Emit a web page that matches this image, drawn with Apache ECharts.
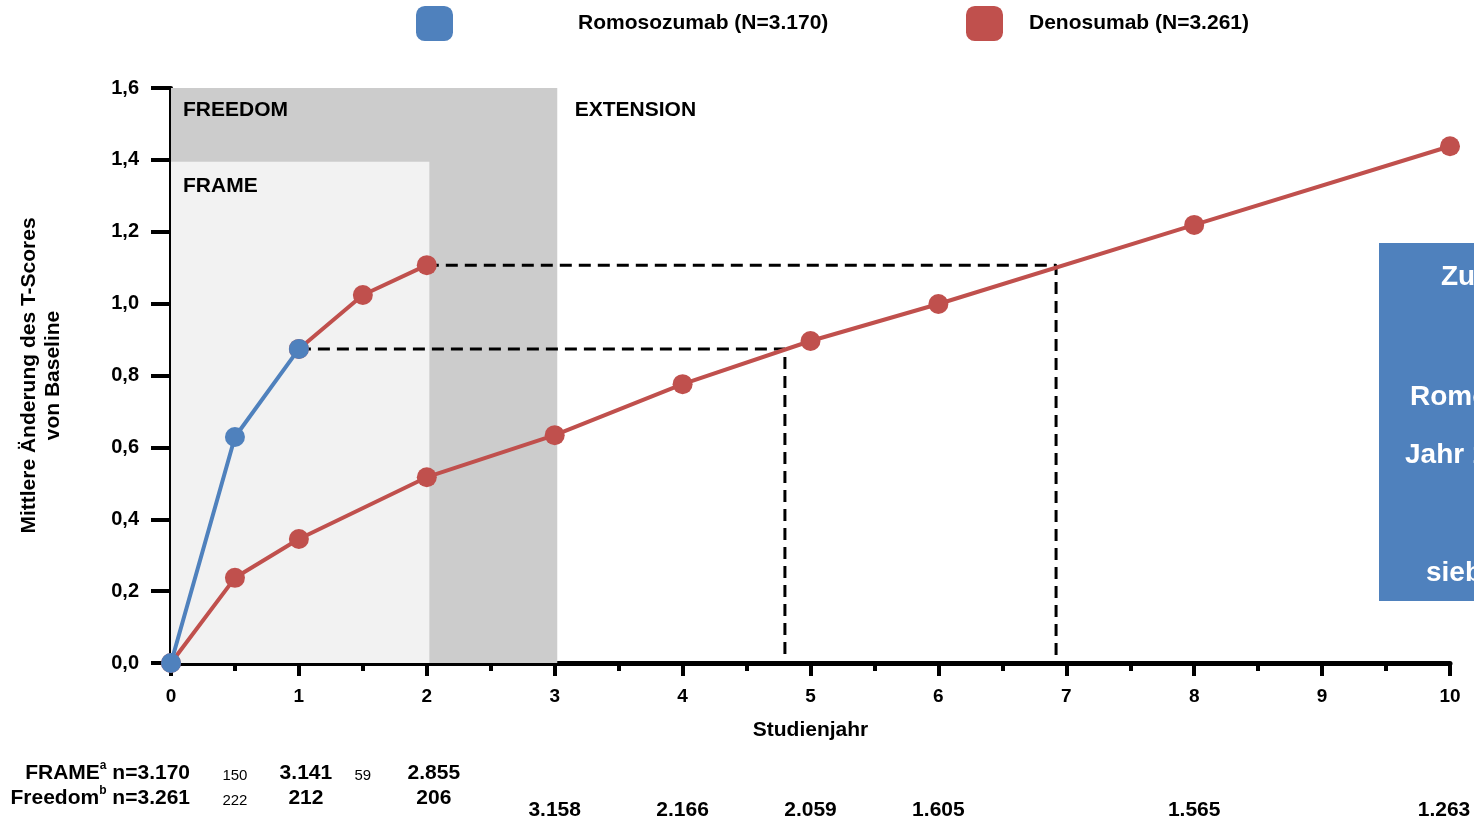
<!DOCTYPE html>
<html>
<head>
<meta charset="utf-8">
<script src="https://cdn.jsdelivr.net/npm/echarts@6/dist/echarts.min.js"></script>
<style>
  html, body { margin: 0; padding: 0; background: #fff; }
  #chart { width: 1474px; height: 821px; }
</style>
</head>
<body>
<div id="chart"></div>
<script>
// Mean change of the T-score from baseline, by study year
const romoYears = [0, 0.5, 1];
const romoValues = [0, 0.629, 0.874];

const switchYears = [1, 1.5, 2];          // Romosozumab followed by Denosumab
const switchValues = [0.874, 1.024, 1.107];

const denoYears = [0, 0.5, 1, 2, 3, 4, 5, 6, 8, 10];
const denoValues = [0, 0.237, 0.345, 0.517, 0.634, 0.776, 0.896, 0.999, 1.219, 1.438];

// Year at which Denosumab reaches the same gain
const matchOneYear = [1, 4.8];
const matchTwoYears = [2, 6.92];

const yTicks = [0, 0.2, 0.4, 0.6, 0.8, 1.0, 1.2, 1.4, 1.6];

// Study phases: [label, start year, end year, top value]
const phaseNames = ['FREEDOM', 'FRAME', 'EXTENSION'];
const phaseStart = [0, 0, 3];
const phaseEnd = [3.02, 2.02, 10];
const phaseTop = [1.6, 1.395, 1.6];

// Patients at risk
const frameRiskYears = [0.5, 1, 1.5, 2];
const frameRiskN = ['150', '3.141', '59', '2.855'];
const freedomRiskYears = [0.5, 1, 2];
const freedomRiskN = ['222', '212', '206'];
const extensionRiskYears = [3, 4, 5, 6, 8, 10];
const extensionRiskN = ['3.158', '2.166', '2.059', '1.605', '1.565', '1.263'];

const summaryLines = ['Zu Beginn', 'Romosozumab', 'Jahr 1', 'sieben Jahre'];

const BLUE = '#4f81bd';
const RED = '#c0504d';
const FONT = '"Liberation Sans", Arial, sans-serif';
const phaseFill = ['#cccccc', '#f2f2f2', 'rgba(0,0,0,0)'];

const pairs = (xs, ys) => xs.map((x, i) => [x, ys[i]]);
const romoAt1 = romoValues[romoYears.indexOf(1)];
const switchAt2 = switchValues[switchYears.indexOf(2)];

const chart = echarts.init(document.getElementById('chart'), null, { renderer: 'canvas' });

const legendText = { fontFamily: FONT, fontSize: 21, fontWeight: 'bold', color: '#000' };

chart.setOption({
  animation: false,
  textStyle: { fontFamily: FONT },
  grid: { left: 171, right: 24, top: 88, bottom: 158, containLabel: false },
  legend: [
    { data: ['Romosozumab (N=3.170)'], left: 416, top: 6, padding: 0, itemWidth: 37, itemHeight: 35, icon: 'roundRect',
      textStyle: Object.assign({ padding: [0, 0, 12, 120] }, legendText) },
    { data: ['Denosumab (N=3.261)'], left: 966, top: 6, padding: 0, itemWidth: 37, itemHeight: 35, icon: 'roundRect',
      textStyle: Object.assign({ padding: [0, 0, 12, 21] }, legendText) }
  ],
  xAxis: {
    type: 'value', min: 0, max: 10, interval: 1,
    name: 'Studienjahr', nameLocation: 'middle', nameGap: 57,
    nameTextStyle: { fontFamily: FONT, fontSize: 21, fontWeight: 'bold', color: '#000' },
    axisLine: { lineStyle: { color: '#000', width: 5 } },
    axisTick: { length: 13, lineStyle: { color: '#000', width: 4 } },
    minorTick: { show: true, splitNumber: 2, length: 8, lineStyle: { color: '#000', width: 4 } },
    axisLabel: { margin: 24, fontFamily: FONT, fontSize: 19, fontWeight: 'bold', color: '#000' },
    splitLine: { show: false }
  },
  yAxis: {
    type: 'value', min: yTicks[0], max: yTicks[yTicks.length - 1], interval: 0.2,
    name: 'Mittlere Änderung des T-Scores\nvon Baseline', nameLocation: 'middle', nameGap: 106, nameRotate: 90,
    nameTextStyle: { fontFamily: FONT, fontSize: 21, fontWeight: 'bold', color: '#000', lineHeight: 24 },
    axisLine: { show: true, lineStyle: { color: '#000', width: 4 } },
    axisTick: { show: true, length: 20, lineStyle: { color: '#000', width: 4 } },
    axisLabel: {
      margin: 32, fontFamily: FONT, fontSize: 20, fontWeight: 'bold', color: '#000',
      formatter: v => v.toFixed(1).replace('.', ',')
    },
    splitLine: { show: false }
  },
  series: [
    {
      // study phase shading
      type: 'line', data: [], silent: true,
      markArea: {
        silent: true,
        data: phaseNames.map((n, i) => [
          { xAxis: phaseStart[i], yAxis: 0, itemStyle: { color: phaseFill[i] } },
          { xAxis: phaseEnd[i], yAxis: phaseTop[i] }
        ])
      }
    },
    {
      name: 'dashA', type: 'line', silent: true, symbol: 'none', z: 3,
      lineStyle: { color: '#000', width: 3, type: [12, 7] },
      data: [[matchOneYear[0], romoAt1], [matchOneYear[1], romoAt1], [matchOneYear[1], 0.02]]
    },
    {
      name: 'dashB', type: 'line', silent: true, symbol: 'none', z: 3,
      lineStyle: { color: '#000', width: 3, type: [12, 7] },
      data: [[matchTwoYears[0], switchAt2], [matchTwoYears[1], switchAt2], [matchTwoYears[1], 0.02]]
    },
    {
      name: 'Denosumab (N=3.261)', type: 'line', z: 4, clip: false,
      data: pairs(denoYears, denoValues),
      symbol: 'circle', symbolSize: 20,
      itemStyle: { color: RED }, lineStyle: { color: RED, width: 4 }
    },
    {
      name: 'Denosumab (N=3.261)', type: 'line', z: 4, clip: false,
      data: pairs(switchYears, switchValues),
      symbol: 'circle', symbolSize: 20,
      itemStyle: { color: RED }, lineStyle: { color: RED, width: 4 }
    },
    {
      name: 'Romosozumab (N=3.170)', type: 'line', z: 5, clip: false,
      data: pairs(romoYears, romoValues),
      symbol: 'circle', symbolSize: 20,
      itemStyle: { color: BLUE }, lineStyle: { color: BLUE, width: 4 }
    }
  ]
});

// Phase titles, patients-at-risk table and summary box, placed on the axis scales
const px = yr => chart.convertToPixel({ xAxisIndex: 0 }, yr);
const py = v => chart.convertToPixel({ yAxisIndex: 0 }, v);
const bold = { fontFamily: FONT, fontSize: 21, fontWeight: 'bold', fill: '#000' };
const small = { fontFamily: FONT, fontSize: 15, fontWeight: 'normal', fill: '#000' };
const g = [];

const phaseLabelDx = [12, 12, 20];
const phaseLabelDy = [22, 25, 22];
phaseNames.forEach((n, i) => {
  g.push({
    type: 'text', z: 10,
    x: px(phaseStart[i]) + phaseLabelDx[i], y: py(phaseTop[i]) + phaseLabelDy[i],
    style: Object.assign({ text: n, align: 'left', verticalAlign: 'middle' }, bold)
  });
});

function riskRow(years, counts, y, shift) {
  years.forEach((yr, i) => {
    const minor = !Number.isInteger(yr);
    let x = px(yr) + (minor ? 0 : shift);
    x = Math.min(x, 1474 - 30);
    g.push({
      type: 'text', x: x, y: minor ? y + 3 : y,
      style: Object.assign({ text: counts[i], align: 'center', verticalAlign: 'middle' }, minor ? small : bold)
    });
  });
}

const richLabel = {
  b: { fontFamily: FONT, fontSize: 21, fontWeight: 'bold', fill: '#000' },
  s: { fontFamily: FONT, fontSize: 12, fontWeight: 'bold', fill: '#000', padding: [0, 0, 14, 0] }
};
g.push({ type: 'text', x: 190, y: 773, style: { text: '{b|FRAME}{s|a}{b| n=3.170}', rich: richLabel, align: 'right', verticalAlign: 'middle' } });
g.push({ type: 'text', x: 190, y: 798, style: { text: '{b|Freedom}{s|b}{b| n=3.261}', rich: richLabel, align: 'right', verticalAlign: 'middle' } });

riskRow(frameRiskYears, frameRiskN, 773, 7);
riskRow(freedomRiskYears, freedomRiskN, 798, 7);
riskRow(extensionRiskYears, extensionRiskN, 810, 0);

// summary box at the right edge
g.push({ type: 'rect', shape: { x: 1379, y: 243, width: 200, height: 358 }, style: { fill: BLUE } });
const boxLineX = [1441, 1410, 1405, 1426];
const boxLineY = [277, 397, 455, 573];
summaryLines.forEach((t, i) => {
  g.push({
    type: 'text', x: boxLineX[i], y: boxLineY[i],
    style: { text: t, fontFamily: FONT, fontSize: 28, fontWeight: 'bold', fill: '#fff', align: 'left', verticalAlign: 'middle' }
  });
});

chart.setOption({ graphic: g });
</script>
</body>
</html>
